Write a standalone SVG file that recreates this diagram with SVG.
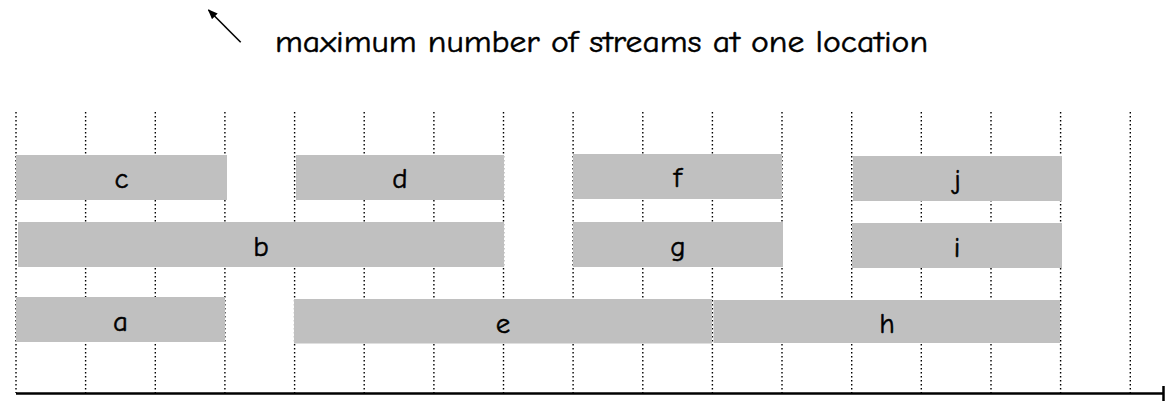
<svg xmlns="http://www.w3.org/2000/svg" width="1165" height="401" viewBox="0 0 1165 401">
<style>
.grid line{stroke:#000;stroke-width:1.4;stroke-dasharray:1.4 2.6}
.box{fill:#c0c0c0}
.lbl{font-family:"Comic Sans MS","Comic Neue","Open Sans","DejaVu Sans",sans-serif;font-size:29px;fill:#000;text-anchor:middle;stroke:#000;stroke-width:0.5}
.title{font-family:"Comic Sans MS","Comic Neue","Open Sans","DejaVu Sans",sans-serif;font-size:31px;fill:#000;stroke:#000;stroke-width:0.5}
</style>
<defs>
<marker id="ah" markerWidth="10" markerHeight="8" refX="9" refY="4" orient="auto" markerUnits="userSpaceOnUse">
<path d="M0,0 L10,4 L0,8 Z" fill="#000"/>
</marker>
</defs>
<rect width="1165" height="401" fill="#fff"/>
<g class="grid">
<line x1="16" y1="112" x2="16" y2="393"/>
<line x1="85.6" y1="112" x2="85.6" y2="393"/>
<line x1="155.3" y1="112" x2="155.3" y2="393"/>
<line x1="224.9" y1="112" x2="224.9" y2="393"/>
<line x1="294.6" y1="112" x2="294.6" y2="393"/>
<line x1="364.2" y1="112" x2="364.2" y2="393"/>
<line x1="433.9" y1="112" x2="433.9" y2="393"/>
<line x1="503.5" y1="112" x2="503.5" y2="393"/>
<line x1="573.1" y1="112" x2="573.1" y2="393"/>
<line x1="642.8" y1="112" x2="642.8" y2="393"/>
<line x1="712.4" y1="112" x2="712.4" y2="393"/>
<line x1="782" y1="112" x2="782" y2="393"/>
<line x1="851.7" y1="112" x2="851.7" y2="393"/>
<line x1="921.3" y1="112" x2="921.3" y2="393"/>
<line x1="991" y1="112" x2="991" y2="393"/>
<line x1="1060.6" y1="112" x2="1060.6" y2="393"/>
<line x1="1130.3" y1="112" x2="1130.3" y2="393"/>
</g>
<g id="axis">
<line x1="16" y1="393.5" x2="1163" y2="393.5" stroke="#000" stroke-width="2.5"/>
<line x1="1163.5" y1="386" x2="1163.5" y2="401" stroke="#000" stroke-width="2.5"/>
</g>
<g id="node-c"><rect class="box" x="16" y="155" width="211" height="45"/><text class="lbl" x="121.5" y="188">c</text></g>
<g id="node-d"><rect class="box" x="296" y="155" width="208" height="45"/><text class="lbl" x="400" y="188">d</text></g>
<g id="node-f"><rect class="box" x="573" y="154" width="209" height="45"/><text class="lbl" x="677.5" y="187">f</text></g>
<g id="node-j"><rect class="box" x="853" y="156" width="209" height="45"/><text class="lbl" x="957.5" y="189">j</text></g>
<g id="node-b"><rect class="box" x="18" y="222" width="486" height="45"/><text class="lbl" x="261" y="256">b</text></g>
<g id="node-g"><rect class="box" x="573" y="222" width="210" height="45"/><text class="lbl" x="678" y="256">g</text></g>
<g id="node-i"><rect class="box" x="852" y="223" width="210" height="45"/><text class="lbl" x="957" y="257">i</text></g>
<g id="node-a"><rect class="box" x="16" y="297" width="209" height="45"/><text class="lbl" x="120.5" y="331">a</text></g>
<g id="node-e"><rect class="box" x="294" y="299" width="418" height="44.5"/><text class="lbl" x="503" y="333">e</text></g>
<g id="node-h"><rect class="box" x="713.5" y="300" width="346.5" height="43"/><text class="lbl" x="887" y="333">h</text></g>
<g id="title"><text class="title" x="275" y="52" textLength="653" lengthAdjust="spacingAndGlyphs">maximum number of streams at one location</text></g>
<g id="connectors">
<line x1="240.7" y1="42.3" x2="208.5" y2="10" stroke="#000" stroke-width="1.6" marker-end="url(#ah)"/>
</g>
</svg>
